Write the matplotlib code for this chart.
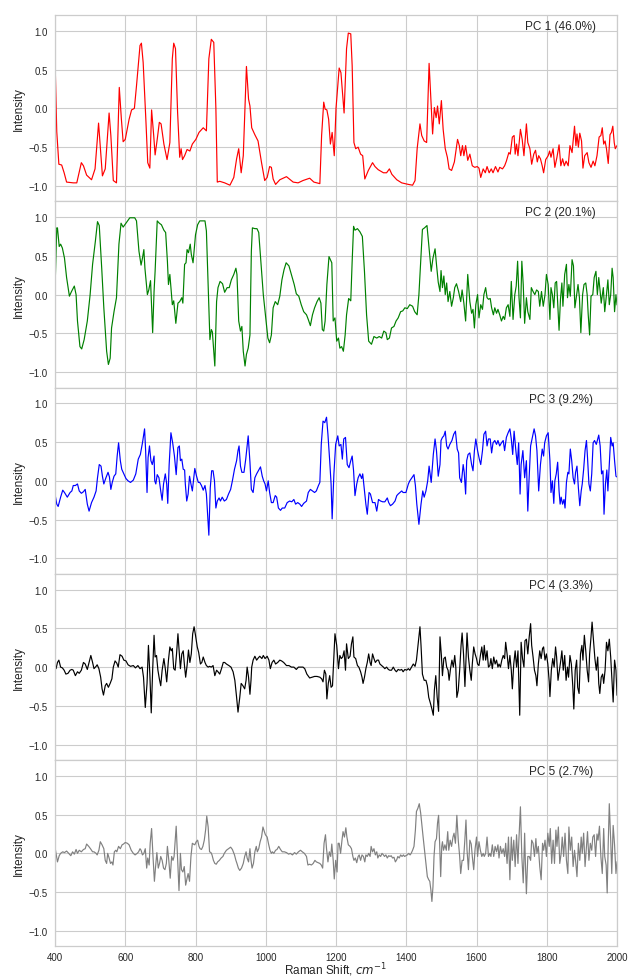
import matplotlib
matplotlib.use("Agg")
import matplotlib.pyplot as plt

# ---------------- data ----------------
pc_labels = ["PC 1 (46.0%)", "PC 2 (20.1%)", "PC 3 (9.2%)", "PC 4 (3.3%)", "PC 5 (2.7%)"]
pc_colors = ["red", "green", "blue", "black", "grey"]
y_ticks = [-1.0, -0.5, 0.0, 0.5, 1.0]
x_ticks = [400, 600, 800, 1000, 1200, 1400, 1600, 1800, 2000]

pc1 = [(400,0.65),(405,-0.30),(411,-0.72),(419,-0.73),(426,-0.83),(433,-0.95),(452,-0.96),(462,-0.96),
(475,-0.70),(481,-0.74),(490,-0.86),(504,-0.92),(514,-0.78),(524,-0.19),(528,-0.44),(535,-0.87),(543,-0.78),
(554,-0.06),(559,-0.35),(566,-0.93),(575,-0.96),(583,0.27),(589,-0.14),(594,-0.43),(600,-0.40),(611,-0.14),
(618,-0.02),(626,0.00),(632,0.29),(642,0.81),(646,0.84),(651,0.59),(659,-0.18),(664,-0.70),(670,-0.77),
(675,-0.02),(681,-0.35),(685,-0.60),(691,-0.40),(697,-0.18),(702,-0.20),(710,-0.46),(719,-0.66),(727,-0.44),
(734,0.64),(738,0.84),(743,0.77),(749,-0.05),(755,-0.63),(759,-0.52),(763,-0.66),(769,-0.61),(776,-0.53),
(784,-0.55),(791,-0.46),(801,-0.40),(810,-0.31),(822,-0.25),(831,-0.29),(838,0.64),(845,0.89),(852,0.85),
(858,0.00),(862,-0.95),(869,-0.94),(883,-0.96),(898,-0.99),(909,-0.89),(917,-0.65),(923,-0.52),(930,-0.83),
(936,-0.61),(945,0.54),(951,0.12),(955,0.03),(960,-0.25),(969,-0.34),(978,-0.42),(988,-0.70),(997,-0.93),
(1004,-0.89),(1011,-0.75),(1016,-0.76),(1021,-0.91),(1028,-0.98),(1040,-0.92),(1059,-0.88),(1078,-0.95),
(1092,-0.96),(1106,-0.93),(1125,-0.90),(1137,-0.95),(1154,-0.97),(1159,-0.35),(1165,0.08),(1169,-0.01),
(1174,-0.02),(1179,-0.14),(1184,-0.46),(1189,-0.31),(1195,-0.61),(1200,0.00),(1209,0.52),(1214,0.46),
(1223,-0.06),(1230,0.77),(1235,0.97),(1242,0.96),(1246,0.55),(1251,-0.44),(1256,-0.52),(1263,-0.50),
(1270,-0.59),(1276,-0.61),(1282,-0.91),(1292,-0.80),(1304,-0.70),(1311,-0.75),(1320,-0.79),(1335,-0.83),
(1344,-0.83),(1352,-0.78),(1359,-0.85),(1373,-0.92),(1387,-0.96),(1406,-0.98),(1418,-0.99),(1425,-0.93),
(1431,-0.52),(1439,-0.20),(1444,-0.35),(1451,-0.42),(1458,-0.44),(1465,0.58),(1469,0.21),(1475,-0.33),
(1480,0.01),(1485,-0.12),(1489,0.03),(1494,-0.20),(1500,0.10),(1505,-0.27),(1511,-0.52),(1517,-0.63),
(1522,-0.78),(1529,-0.80),(1537,-0.69),(1546,-0.40),(1551,-0.48),(1555,-0.61),(1560,-0.48),(1564,-0.61),
(1569,-0.48),(1575,-0.67),(1581,-0.59),(1588,-0.74),(1595,-0.76),(1602,-0.75),(1607,-0.77),(1612,-0.89),
(1619,-0.78),(1625,-0.83),(1630,-0.75),(1636,-0.83),(1642,-0.78),(1647,-0.83),(1654,-0.75),(1661,-0.82),
(1666,-0.76),(1674,-0.78),(1680,-0.74),(1685,-0.68),(1692,-0.57),(1696,-0.59),(1702,-0.37),(1707,-0.35),
(1710,-0.59),(1714,-0.46),(1718,-0.61),(1725,-0.27),(1730,-0.40),(1735,-0.61),(1742,-0.20),(1746,-0.44),
(1752,-0.52),(1757,-0.72),(1763,-0.59),(1768,-0.54),(1773,-0.69),(1777,-0.61),(1782,-0.65),(1787,-0.74),
(1791,-0.83),(1797,-0.66),(1804,-0.61),(1808,-0.55),(1812,-0.63),(1818,-0.52),(1823,-0.76),(1829,-0.63),
(1835,-0.47),(1840,-0.74),(1845,-0.65),(1850,-0.74),(1855,-0.68),(1861,-0.74),(1866,-0.48),(1872,-0.57),
(1879,-0.23),(1883,-0.48),(1886,-0.33),(1890,-0.50),(1894,-0.32),(1899,-0.42),(1903,-0.77),(1908,-0.61),
(1915,-0.57),(1920,-0.70),(1926,-0.76),(1932,-0.68),(1937,-0.74),(1943,-0.61),(1949,-0.37),(1954,-0.35),
(1958,-0.25),(1962,-0.46),(1966,-0.42),(1970,-0.52),(1975,-0.71),(1980,-0.34),(1984,-0.31),(1988,-0.23),
(1992,-0.44),(1995,-0.52),(2000,-0.48)]

pc2 = [(400,0.06),(405,0.86),(407,0.86),(412,0.62),(416,0.65),(421,0.60),(427,0.47),(433,0.22),(441,-0.02),
(447,0.04),(455,0.11),(460,0.00),(464,-0.34),(471,-0.67),(476,-0.70),(483,-0.58),(492,-0.34),(500,0.00),
(507,0.39),(515,0.69),(521,0.94),(526,0.89),(533,0.34),(539,-0.17),(547,-0.73),(552,-0.90),(557,-0.82),
(561,-0.43),(568,-0.22),(575,-0.04),(582,0.65),(588,0.92),(594,0.87),(602,0.92),(613,0.99),(627,0.99),
(632,0.95),(639,0.56),(645,0.38),(649,0.47),(653,0.58),(656,0.34),(663,0.00),(667,0.06),(672,0.18),
(678,-0.49),(682,0.04),(685,0.30),(691,0.95),(697,0.92),(703,0.90),(710,0.83),(715,0.80),(720,0.43),
(723,0.13),(727,0.26),(731,0.04),(734,-0.13),(738,-0.08),(744,-0.37),(750,-0.11),(755,-0.09),(761,-0.04),
(764,-0.11),(769,0.39),(773,0.41),(776,0.58),(780,0.54),(785,0.65),(788,0.52),(793,0.41),(800,0.77),
(806,0.90),(812,0.95),(827,0.95),(831,0.82),(836,0.13),(841,-0.58),(845,-0.45),(848,-0.48),(855,-0.92),
(860,-0.09),(864,0.09),(870,0.17),(877,0.14),(883,0.03),(890,0.09),(896,0.09),(902,0.19),(909,0.26),
(915,0.34),(918,0.26),(923,-0.34),(928,-0.47),(932,-0.41),(936,-0.73),(941,-0.92),(945,-0.77),(950,-0.69),
(955,-0.52),(959,0.56),(962,0.86),(969,0.85),(975,0.85),(980,0.80),(986,0.43),(993,0.00),(1000,-0.30),
(1006,-0.56),(1011,-0.62),(1016,-0.52),(1021,-0.17),(1027,-0.09),(1034,-0.13),(1040,-0.02),(1046,0.19),
(1052,0.32),(1058,0.41),(1066,0.37),(1073,0.26),(1081,0.13),(1087,0.01),(1094,-0.02),(1101,-0.13),
(1108,-0.22),(1116,-0.26),(1121,-0.32),(1127,-0.40),(1133,-0.26),(1139,-0.17),(1146,-0.09),(1152,-0.04),
(1157,-0.11),(1161,-0.45),(1165,-0.47),(1169,-0.34),(1174,0.13),(1180,0.49),(1184,0.45),(1188,0.41),
(1192,-0.34),(1197,-0.30),(1202,-0.60),(1207,-0.56),(1211,-0.69),(1216,-0.67),(1221,-0.73),(1226,-0.52),
(1230,-0.26),(1236,-0.05),(1242,-0.08),(1246,0.43),(1250,0.88),(1254,0.83),(1261,0.85),(1268,0.81),
(1275,0.75),(1281,0.30),(1287,-0.26),(1293,-0.60),(1301,-0.64),(1308,-0.54),(1316,-0.56),(1323,-0.54),
(1330,-0.56),(1336,-0.47),(1342,-0.49),(1346,-0.58),(1352,-0.56),(1358,-0.43),(1365,-0.41),(1371,-0.34),
(1377,-0.30),(1384,-0.22),(1390,-0.21),(1396,-0.17),(1403,-0.18),(1410,-0.13),(1418,-0.15),(1424,-0.22),
(1431,-0.26),(1436,0.00),(1441,0.43),(1446,0.84),(1452,0.86),(1459,0.89),(1465,0.60),(1471,0.30),
(1476,0.47),(1482,0.59),(1486,0.39),(1491,0.16),(1496,0.04),(1499,0.31),(1503,0.09),(1507,0.24),
(1511,0.00),(1515,0.15),(1519,-0.09),(1524,0.04),(1529,-0.15),(1534,-0.04),(1538,0.09),(1543,0.14),
(1549,0.04),(1555,-0.09),(1559,0.06),(1564,-0.11),(1569,-0.34),(1575,0.26),(1581,-0.09),(1586,-0.24),
(1590,-0.19),(1594,-0.43),(1598,-0.13),(1603,0.00),(1607,-0.30),(1612,-0.13),(1617,-0.19),(1621,0.00),
(1626,0.09),(1630,-0.04),(1634,-0.06),(1639,-0.05),(1643,-0.17),(1648,-0.26),(1652,-0.17),(1657,-0.24),
(1661,-0.19),(1666,-0.26),(1671,-0.34),(1676,-0.28),(1680,-0.32),(1685,-0.17),(1690,-0.13),(1695,-0.28),
(1699,0.17),(1704,-0.32),(1709,0.00),(1713,0.11),(1717,0.43),(1721,-0.04),(1725,-0.30),(1729,0.43),
(1733,0.13),(1737,-0.37),(1742,-0.04),(1746,-0.22),(1752,-0.32),(1756,0.09),(1761,0.04),(1766,0.00),
(1771,0.06),(1776,0.04),(1780,-0.15),(1785,0.04),(1790,-0.15),(1795,0.00),(1799,0.26),(1804,0.13),
(1809,-0.32),(1812,0.09),(1816,0.00),(1820,-0.17),(1824,0.15),(1828,0.17),(1831,-0.09),(1835,-0.46),
(1839,-0.06),(1843,0.15),(1846,-0.15),(1851,0.26),(1856,0.39),(1859,-0.04),(1863,0.13),(1867,-0.02),
(1872,0.45),(1876,0.37),(1880,-0.17),(1885,0.00),(1889,0.13),(1893,-0.04),(1897,-0.49),(1902,0.00),
(1906,0.13),(1911,0.15),(1915,0.00),(1918,-0.26),(1922,-0.52),(1926,-0.02),(1931,0.00),(1935,0.22),
(1940,0.30),(1944,0.00),(1948,0.22),(1952,0.04),(1955,-0.11),(1961,0.09),(1965,-0.22),(1970,0.00),
(1974,0.19),(1978,-0.13),(1982,0.00),(1986,0.34),(1989,0.22),(1993,-0.22),(1997,0.00),(2000,-0.13)]

pc3 = [(400,-0.17),(405,-0.30),(409,-0.33),(416,-0.21),(422,-0.12),(427,-0.15),(435,-0.21),(443,-0.15),
(448,-0.13),(452,-0.06),(458,-0.06),(464,-0.04),(469,-0.13),(475,-0.16),(481,-0.14),(486,-0.11),(492,-0.30),
(497,-0.39),(504,-0.28),(511,-0.21),(517,-0.13),(521,0.04),(526,0.21),(531,0.19),(535,0.06),(539,-0.04),
(545,0.04),(551,0.11),(555,0.05),(559,-0.11),(563,-0.02),(568,0.06),(573,0.09),(577,0.32),(581,0.49),
(586,0.26),(590,0.15),(596,0.09),(602,0.03),(608,0.00),(615,-0.02),(623,0.01),(630,0.09),(637,0.28),
(643,0.34),(649,0.49),(655,0.67),(658,0.39),(662,-0.15),(665,0.30),(669,0.45),(673,0.26),(677,0.21),
(682,0.32),(684,0.00),(687,-0.04),(691,0.08),(696,0.04),(701,-0.13),(705,-0.25),(709,-0.04),(714,0.09),
(718,-0.04),(721,-0.29),(725,0.21),(730,0.62),(735,0.49),(740,0.32),(745,0.08),(750,0.43),(754,0.45),
(757,0.26),(761,0.28),(765,0.15),(769,0.14),(771,-0.04),(775,-0.26),(779,-0.17),(783,0.06),(787,-0.04),
(791,-0.13),(795,0.04),(798,0.16),(803,0.06),(808,-0.02),(812,-0.02),(817,-0.06),(822,-0.12),(827,-0.06),
(831,-0.17),(835,-0.47),(838,-0.70),(842,-0.09),(846,0.13),(850,0.13),(854,0.00),(858,-0.35),(862,-0.26),
(867,-0.22),(871,-0.26),(876,-0.21),(882,-0.26),(888,-0.24),(894,-0.17),(900,-0.11),(905,0.00),(911,0.15),
(917,0.26),(921,0.39),(924,0.45),(928,0.19),(932,0.11),(938,0.11),(943,0.28),(950,0.58),(955,0.24),
(959,-0.11),(964,-0.15),(969,0.04),(974,0.09),(979,0.13),(985,0.18),(990,0.06),(994,0.00),(998,-0.04),
(1002,-0.13),(1007,0.00),(1011,-0.15),(1016,-0.28),(1021,-0.28),(1027,-0.19),(1031,-0.21),(1036,-0.35),
(1042,-0.38),(1047,-0.35),(1054,-0.35),(1061,-0.28),(1068,-0.26),(1074,-0.27),(1080,-0.24),(1085,-0.30),
(1091,-0.28),(1097,-0.30),(1102,-0.33),(1108,-0.29),(1116,-0.26),(1121,-0.15),(1127,-0.11),(1133,-0.13),
(1139,-0.15),(1144,-0.13),(1150,-0.06),(1154,-0.02),(1158,0.47),(1163,0.77),(1168,0.75),(1173,0.82),
(1177,0.60),(1182,0.26),(1186,-0.04),(1189,-0.49),(1194,0.09),(1199,0.47),(1205,0.58),(1209,0.45),
(1214,0.47),(1218,0.28),(1222,0.54),(1227,0.56),(1232,0.21),(1237,0.17),(1242,0.26),(1246,0.32),
(1250,0.13),(1254,-0.19),(1259,-0.04),(1263,0.04),(1268,0.09),(1273,0.03),(1276,0.09),(1281,-0.13),
(1285,-0.30),(1289,-0.43),(1294,-0.15),(1298,-0.17),(1304,-0.28),(1311,-0.28),(1316,-0.39),(1321,-0.24),
(1327,-0.26),(1333,-0.27),(1339,-0.27),(1346,-0.22),(1350,-0.28),(1355,-0.32),(1361,-0.30),(1368,-0.26),
(1373,-0.19),(1377,-0.17),(1382,-0.15),(1387,-0.13),(1391,-0.15),(1399,-0.15),(1406,-0.04),(1410,0.00),
(1416,0.04),(1422,0.08),(1426,-0.06),(1430,-0.30),(1436,-0.56),(1442,-0.30),(1447,-0.13),(1451,-0.21),
(1456,-0.13),(1461,0.00),(1465,0.19),(1471,-0.02),(1477,0.34),(1482,0.54),(1486,0.39),(1491,0.06),
(1496,0.21),(1499,0.52),(1503,0.56),(1507,0.58),(1511,0.64),(1515,0.45),(1519,0.41),(1524,0.47),
(1530,0.52),(1535,0.60),(1540,0.64),(1545,0.41),(1549,0.36),(1552,0.04),(1557,-0.02),(1562,0.21),
(1565,0.11),(1569,-0.17),(1572,0.26),(1576,0.34),(1581,0.36),(1586,0.21),(1590,0.13),(1594,0.39),
(1598,0.54),(1603,0.39),(1608,0.28),(1612,0.21),(1617,0.39),(1621,0.60),(1626,0.64),(1630,0.45),
(1634,0.54),(1639,0.54),(1643,0.36),(1647,0.49),(1652,0.52),(1657,0.47),(1661,0.52),(1666,0.45),
(1671,0.49),(1676,0.52),(1680,0.39),(1685,0.56),(1690,0.62),(1695,0.67),(1699,0.54),(1703,0.34),
(1707,0.64),(1712,0.39),(1716,0.21),(1720,0.49),(1724,-0.17),(1727,0.21),(1732,0.39),(1737,0.04),
(1742,0.26),(1746,-0.39),(1749,-0.04),(1754,0.45),(1759,0.56),(1764,0.67),(1768,0.58),(1772,0.39),
(1777,-0.13),(1782,0.21),(1787,0.41),(1791,0.32),(1794,0.49),(1799,0.58),(1804,0.62),(1809,0.26),
(1812,-0.15),(1816,0.00),(1820,-0.29),(1823,0.00),(1827,0.09),(1831,0.24),(1835,-0.13),(1838,-0.30),
(1841,-0.21),(1845,-0.30),(1849,-0.24),(1852,-0.35),(1856,-0.02),(1860,0.11),(1863,0.09),(1867,0.41),
(1871,0.26),(1875,0.04),(1879,-0.04),(1882,0.11),(1886,0.19),(1890,-0.09),(1894,-0.32),(1898,-0.13),
(1901,-0.04),(1905,0.15),(1909,0.39),(1913,0.52),(1916,0.30),(1920,-0.04),(1924,-0.13),(1928,0.09),
(1932,0.49),(1936,0.52),(1941,0.47),(1945,0.54),(1948,0.59),(1952,0.45),(1956,0.09),(1960,0.13),
(1963,-0.43),(1967,-0.04),(1971,0.14),(1974,-0.13),(1978,0.21),(1982,0.56),(1986,0.45),(1989,0.49),
(1993,0.26),(1997,0.06),(2000,0.05)]

pc4 = [(400,0.00),(403,-0.02),(407,0.06),(411,0.09),(416,0.00),(421,-0.01),(426,-0.04),(431,-0.09),
(437,-0.08),(443,-0.04),(448,-0.03),(452,-0.04),(458,-0.11),(464,-0.06),(469,-0.08),(475,-0.04),(481,0.06),
(486,0.04),(492,-0.03),(497,0.06),(502,0.15),(507,0.06),(511,-0.02),(517,0.01),(520,0.03),(525,-0.02),
(530,-0.13),(534,-0.28),(538,-0.36),(543,-0.24),(547,-0.21),(552,-0.26),(557,-0.21),(562,-0.15),(566,0.00),
(571,0.08),(576,0.05),(580,0.00),(585,0.16),(591,0.14),(596,0.09),(602,0.08),(608,0.03),(615,0.01),
(623,0.02),(629,-0.01),(636,0.02),(642,-0.02),(648,0.00),(652,-0.13),(657,-0.52),(662,-0.21),(666,0.28),
(670,-0.09),(674,-0.59),(678,-0.04),(682,0.41),(685,0.13),(689,0.15),(693,-0.04),(697,-0.15),(701,-0.24),
(705,-0.04),(710,0.11),(714,-0.02),(718,-0.19),(723,0.09),(727,0.26),(731,0.21),(734,0.24),(738,-0.02),
(742,-0.04),(746,0.17),(750,0.43),(754,0.17),(757,-0.02),(761,0.17),(765,0.21),(769,0.00),(772,-0.13),
(776,0.02),(780,0.22),(784,0.06),(788,0.17),(792,0.43),(796,0.52),(800,0.41),(805,0.26),(809,0.19),
(814,0.04),(818,0.06),(822,0.13),(827,0.06),(831,0.02),(836,0.00),(840,0.01),(845,0.00),(850,0.02),
(855,-0.11),(860,-0.04),(864,-0.06),(869,-0.09),(874,-0.02),(879,0.06),(883,0.06),(888,0.04),(895,0.02),
(901,0.00),(907,-0.06),(912,-0.17),(917,-0.39),(921,-0.58),(926,-0.39),(930,-0.21),(935,-0.24),(940,-0.28),
(944,-0.17),(947,0.00),(951,-0.13),(955,-0.35),(958,-0.17),(960,0.00),(964,0.09),(969,0.14),(974,0.09),
(979,0.12),(983,0.14),(989,0.11),(993,0.15),(998,0.11),(1004,0.14),(1009,0.09),(1013,-0.02),(1018,0.06),
(1023,0.09),(1028,0.04),(1034,0.06),(1040,0.09),(1045,0.08),(1051,0.06),(1059,0.02),(1066,0.02),(1073,0.00),
(1080,0.00),(1087,-0.03),(1093,0.00),(1098,0.00),(1106,0.00),(1111,-0.02),(1117,-0.09),(1125,-0.14),
(1132,-0.13),(1139,-0.12),(1146,-0.12),(1154,-0.13),(1159,-0.15),(1163,-0.19),(1167,-0.04),(1171,-0.09),
(1174,-0.41),(1178,-0.21),(1182,-0.11),(1186,-0.26),(1190,-0.24),(1193,0.04),(1197,0.43),(1202,0.28),
(1207,-0.02),(1211,0.15),(1215,0.11),(1219,0.13),(1223,0.21),(1227,-0.04),(1230,0.30),(1235,0.11),
(1240,0.14),(1244,0.30),(1248,0.39),(1251,0.13),(1256,0.11),(1261,0.02),(1265,0.00),(1270,-0.06),
(1274,-0.13),(1277,-0.21),(1281,-0.13),(1285,-0.02),(1289,0.06),(1293,0.17),(1297,0.06),(1300,0.02),
(1304,0.17),(1308,0.11),(1312,0.06),(1317,0.09),(1321,0.09),(1325,0.04),(1330,0.02),(1335,0.00),
(1339,-0.02),(1344,0.00),(1349,-0.03),(1353,-0.04),(1358,-0.04),(1363,0.00),(1368,-0.04),(1372,-0.06),
(1377,-0.03),(1382,-0.04),(1387,-0.03),(1391,-0.06),(1396,-0.03),(1401,-0.04),(1406,-0.02),(1410,-0.04),
(1415,0.00),(1420,0.04),(1425,0.01),(1429,0.09),(1434,0.30),(1439,0.52),(1442,0.28),(1446,-0.09),
(1451,-0.17),(1456,-0.17),(1460,-0.24),(1464,-0.39),(1469,-0.47),(1473,-0.54),(1477,-0.62),(1480,-0.30),
(1484,-0.11),(1488,-0.39),(1492,-0.57),(1496,0.39),(1500,0.15),(1503,-0.11),(1507,0.11),(1511,0.13),
(1515,0.00),(1519,-0.04),(1522,-0.17),(1526,-0.02),(1530,0.09),(1534,0.00),(1538,0.15),(1541,0.00),
(1544,-0.39),(1548,-0.30),(1552,-0.04),(1556,0.28),(1559,0.44),(1563,0.17),(1567,-0.25),(1570,0.09),
(1573,0.44),(1577,0.13),(1581,-0.04),(1585,-0.17),(1588,0.04),(1592,0.26),(1596,0.17),(1600,0.11),
(1603,0.04),(1607,0.02),(1611,0.15),(1615,0.26),(1619,0.09),(1622,0.28),(1626,0.09),(1630,0.21),
(1634,0.00),(1638,0.02),(1641,0.11),(1645,-0.02),(1649,0.13),(1653,0.04),(1657,0.09),(1661,0.00),
(1664,0.04),(1668,0.00),(1672,0.09),(1676,0.15),(1680,0.11),(1683,0.32),(1687,0.17),(1691,-0.02),
(1695,0.15),(1699,-0.04),(1702,-0.28),(1706,0.04),(1710,0.21),(1714,0.00),(1718,0.21),(1720,-0.13),
(1723,-0.62),(1727,0.32),(1731,0.11),(1735,0.00),(1738,0.34),(1742,0.36),(1746,0.17),(1750,0.39),
(1754,0.56),(1757,0.28),(1761,0.13),(1765,-0.04),(1769,-0.11),(1772,-0.24),(1776,0.04),(1780,0.21),
(1784,0.11),(1788,0.24),(1791,0.26),(1795,0.09),(1799,0.17),(1803,0.04),(1807,-0.19),(1809,-0.38),
(1813,-0.04),(1817,0.11),(1821,0.00),(1825,0.26),(1828,0.13),(1832,-0.17),(1836,-0.04),(1840,0.09),
(1843,0.21),(1847,-0.04),(1851,0.15),(1855,-0.17),(1859,0.00),(1862,-0.13),(1866,0.15),(1870,0.04),
(1874,-0.24),(1877,-0.54),(1881,-0.04),(1885,0.09),(1888,-0.26),(1892,-0.34),(1896,0.17),(1900,0.28),
(1903,0.09),(1907,0.41),(1911,0.21),(1915,-0.04),(1919,-0.19),(1922,0.17),(1926,0.39),(1929,0.58),
(1933,0.34),(1937,0.11),(1941,-0.04),(1945,0.13),(1948,-0.21),(1951,-0.34),(1955,-0.13),(1959,-0.09),
(1962,-0.21),(1966,-0.04),(1970,0.32),(1974,0.21),(1978,0.36),(1982,0.13),(1985,-0.13),(1989,-0.45),
(1993,0.09),(1997,-0.04),(2000,-0.36)]

pc5 = [(400,0.08),(405,-0.06),(407,-0.11),(412,-0.03),(416,0.00),(422,0.02),(427,0.01),(433,0.03),
(439,0.00),(445,-0.03),(450,0.02),(455,-0.01),(460,0.05),(464,0.00),(469,0.04),(475,0.02),(481,0.05),
(486,0.06),(490,0.12),(496,0.09),(501,0.06),(507,0.02),(511,0.02),(517,0.00),(520,-0.02),(525,0.04),
(529,0.15),(534,0.11),(539,0.06),(543,-0.09),(547,-0.13),(550,0.00),(554,-0.06),(558,-0.13),(562,-0.11),
(565,-0.15),(569,0.02),(573,0.04),(576,0.02),(581,0.09),(586,0.06),(591,0.11),(595,0.12),(600,0.14),
(606,0.13),(611,0.11),(617,0.04),(623,0.00),(628,-0.02),(634,0.00),(638,0.02),(642,0.06),(645,0.04),
(649,-0.02),(653,0.00),(657,0.06),(661,-0.19),(664,-0.06),(668,-0.15),(671,0.13),(675,0.32),(679,-0.04),
(683,-0.36),(686,-0.19),(690,0.01),(694,-0.19),(698,-0.12),(701,-0.04),(705,-0.09),(709,-0.19),(713,-0.21),
(717,-0.13),(720,0.09),(724,-0.09),(728,-0.32),(732,-0.04),(736,-0.09),(739,-0.04),(745,0.35),(749,-0.06),
(753,-0.48),(757,0.00),(760,-0.21),(764,-0.24),(768,-0.17),(772,-0.41),(776,-0.32),(779,-0.26),(783,-0.36),
(787,-0.04),(791,0.13),(794,0.12),(798,0.11),(802,0.15),(806,0.17),(810,0.09),(813,0.06),(817,0.05),
(821,0.09),(825,0.17),(829,0.31),(832,0.48),(836,0.34),(840,0.02),(844,0.01),(847,-0.02),(851,-0.09),
(855,-0.13),(859,-0.14),(863,-0.11),(868,-0.09),(873,-0.06),(878,-0.04),(882,0.00),(888,0.04),(894,0.06),
(900,0.08),(905,0.05),(911,-0.02),(915,-0.09),(918,-0.13),(922,-0.19),(926,-0.22),(931,-0.19),(936,-0.13),
(940,-0.04),(944,0.02),(947,-0.06),(951,-0.11),(955,0.06),(958,-0.09),(961,-0.19),(965,-0.13),(969,0.02),
(973,0.09),(976,0.02),(980,0.06),(984,0.15),(988,0.21),(992,0.34),(996,0.28),(999,0.24),(1004,0.21),
(1008,0.12),(1012,0.04),(1016,0.00),(1019,0.02),(1023,0.00),(1028,0.04),(1032,0.05),(1037,0.09),
(1042,0.05),(1047,0.02),(1053,0.02),(1059,0.01),(1065,-0.01),(1070,0.00),(1076,-0.02),(1082,0.01),
(1087,-0.01),(1093,0.02),(1099,0.04),(1104,0.02),(1110,0.00),(1116,-0.04),(1120,-0.15),(1125,-0.14),
(1130,-0.15),(1135,-0.13),(1140,-0.09),(1144,-0.11),(1149,-0.12),(1154,-0.13),(1158,-0.15),(1162,-0.19),
(1166,0.13),(1170,0.24),(1173,0.06),(1177,-0.11),(1181,0.02),(1185,-0.04),(1188,0.12),(1192,-0.09),
(1195,-0.33),(1199,-0.09),(1203,-0.24),(1206,0.13),(1209,0.13),(1213,0.00),(1217,0.17),(1220,0.28),
(1224,0.21),(1228,0.33),(1231,0.21),(1235,0.11),(1240,0.09),(1244,0.06),(1248,-0.04),(1251,-0.09),
(1255,-0.06),(1259,-0.12),(1263,-0.04),(1266,-0.02),(1270,-0.09),(1274,-0.02),(1278,-0.04),(1282,-0.11),
(1285,-0.02),(1289,-0.04),(1293,0.00),(1297,-0.04),(1300,0.09),(1304,0.02),(1308,0.06),(1312,-0.02),
(1316,0.02),(1319,-0.06),(1323,-0.02),(1327,-0.04),(1331,0.00),(1335,-0.02),(1338,-0.04),(1342,-0.02),
(1346,-0.06),(1350,-0.03),(1354,-0.04),(1357,-0.03),(1361,-0.06),(1365,-0.05),(1369,-0.11),(1373,-0.08),
(1376,-0.04),(1380,-0.06),(1384,-0.02),(1388,-0.04),(1392,-0.02),(1395,-0.04),(1399,-0.03),(1403,-0.02),
(1407,0.00),(1411,-0.02),(1414,0.00),(1418,0.04),(1422,0.09),(1426,0.30),(1429,0.54),(1433,0.58),
(1437,0.64),(1441,0.52),(1445,0.34),(1448,0.21),(1452,0.04),(1456,-0.13),(1460,-0.30),(1464,-0.34),
(1467,-0.36),(1470,-0.47),(1473,-0.62),(1476,-0.43),(1479,-0.04),(1482,0.15),(1486,0.19),(1489,0.39),
(1492,0.49),(1495,0.13),(1498,-0.30),(1501,0.09),(1503,0.15),(1506,0.04),(1510,0.11),(1514,0.04),
(1518,0.28),(1521,0.04),(1525,0.17),(1529,0.09),(1533,0.21),(1536,0.26),(1540,0.13),(1544,0.49),
(1548,0.17),(1552,-0.04),(1555,-0.26),(1559,-0.09),(1563,-0.09),(1567,0.19),(1570,0.43),(1573,0.04),
(1577,-0.21),(1581,0.17),(1585,0.12),(1588,-0.04),(1592,-0.21),(1596,0.06),(1600,0.21),(1603,-0.04),
(1607,0.15),(1611,0.04),(1615,-0.04),(1619,0.00),(1622,-0.04),(1626,0.00),(1630,0.21),(1634,-0.04),
(1638,0.00),(1641,-0.04),(1645,0.11),(1649,-0.04),(1653,0.09),(1657,0.02),(1661,0.11),(1664,-0.06),
(1668,0.09),(1672,0.00),(1676,0.06),(1680,-0.04),(1683,0.13),(1687,-0.13),(1691,0.21),(1695,-0.34),
(1699,0.21),(1702,-0.09),(1706,0.17),(1710,-0.17),(1714,0.24),(1718,-0.13),(1721,0.21),(1725,0.60),
(1729,-0.04),(1733,-0.38),(1737,0.26),(1739,-0.11),(1742,-0.52),(1746,-0.04),(1750,-0.04),(1754,-0.09),
(1757,0.17),(1761,0.13),(1765,-0.04),(1769,0.19),(1772,0.00),(1776,0.09),(1780,-0.17),(1784,-0.34),
(1788,0.13),(1791,0.04),(1795,0.17),(1799,-0.04),(1803,0.26),(1807,0.09),(1810,0.32),(1814,-0.13),
(1818,0.17),(1822,-0.13),(1826,0.30),(1829,0.09),(1833,0.34),(1837,-0.13),(1841,0.00),(1844,0.21),
(1848,-0.04),(1852,0.26),(1856,-0.09),(1860,-0.26),(1863,0.34),(1867,0.04),(1871,0.21),(1875,-0.17),
(1879,0.04),(1882,-0.09),(1886,-0.30),(1890,0.13),(1894,-0.09),(1898,0.21),(1901,0.00),(1905,0.26),
(1909,-0.17),(1913,0.09),(1916,0.28),(1920,-0.09),(1924,0.13),(1928,0.04),(1931,0.21),(1935,0.24),
(1939,-0.04),(1943,0.25),(1946,0.17),(1950,0.35),(1954,-0.04),(1958,-0.26),(1962,0.32),(1965,-0.04),
(1969,-0.15),(1972,-0.51),(1975,0.13),(1978,0.64),(1982,0.17),(1985,-0.26),(1989,0.36),(1993,0.11),
(1997,-0.26),(2000,-0.11)]

series = [pc1, pc2, pc3, pc4, pc5]

# ---------------- style ----------------
plt.rcParams["font.family"] = ["Liberation Sans", "DejaVu Sans"]
plt.rcParams["text.color"] = "#262626"
plt.rcParams["axes.labelcolor"] = "#262626"
plt.rcParams["xtick.color"] = "#262626"
plt.rcParams["ytick.color"] = "#262626"

fig, axes = plt.subplots(5, 1, figsize=(6.3, 9.78), dpi=100, sharex=True)
fig.subplots_adjust(left=0.0873, right=0.9794, top=0.9834, bottom=0.0312, hspace=0.0)

for ax, data, lab, col in zip(axes, series, pc_labels, pc_colors):
    xs = [p[0] for p in data]
    ys = [p[1] for p in data]
    ax.set_facecolor("white")
    ax.grid(True, color="#cccccc", linewidth=0.8)
    ax.set_axisbelow(True)
    for sp in ax.spines.values():
        sp.set_color("#cccccc")
        sp.set_linewidth(0.9)
    ax.plot(xs, ys, color=col, linewidth=0.85)
    ax.set_xlim(400, 2000)
    ax.set_ylim(-1.2, 1.2)
    ax.set_yticks(y_ticks)
    ax.set_xticks(x_ticks)
    ax.tick_params(axis="both", length=0, labelsize=7, pad=5)
    ax.set_ylabel("Intensity", fontsize=8.5, labelpad=3)
    ax.text(0.9, 0.942, lab, transform=ax.transAxes, ha="center", va="center", fontsize=8.5)

for ax in axes[:-1]:
    ax.tick_params(axis="x", labelbottom=False)
axes[-1].tick_params(axis="x", pad=4)
axes[-1].set_xlabel("")
fig.text(0.5333, 1 - 970.0 / 978.0, "Raman Shift, $cm^{-1}$", ha="center", va="center", fontsize=8.5)

fig.savefig("out.png", dpi=100)
